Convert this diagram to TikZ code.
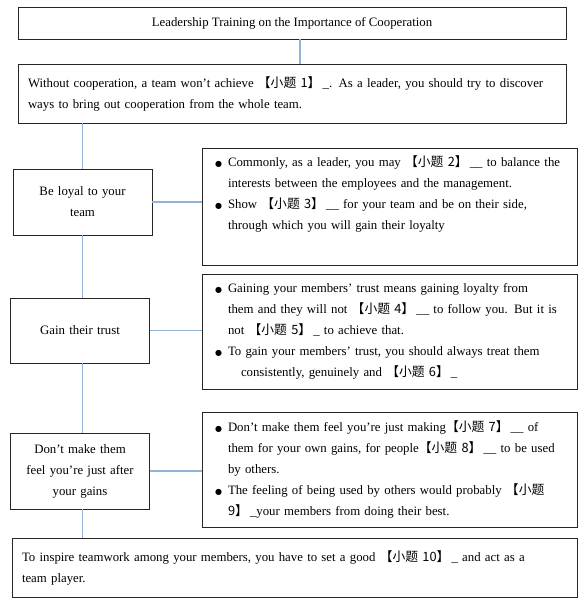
\documentclass[tikz,border=0pt]{standalone}
\usepackage{fontspec}
\setmainfont{Liberation Serif}
\newfontfamily\cjk{Noto Sans CJK SC}
\newfontfamily\symfont{DejaVu Sans}
\usetikzlibrary{calc}
\definecolor{linkblue}{RGB}{149,179,215}
\newcommand{\xt}[1]{{\cjk 【小题~#1】}}
\newcommand{\bul}{\makebox[13pt][l]{\symfont\fontsize{8}{8}\selectfont ●}}
\newcommand{\hang}{\hspace*{13pt}}

\begin{document}
\begin{tikzpicture}[x=1pt, y=-1pt,
    box/.style={draw=black!85, line width=0.9pt, rectangle, inner ysep=0pt,
                font=\fontsize{12.8}{21}\selectfont},
    wide/.style={box, align=left, inner xsep=10pt, minimum height=59pt},
    topic/.style={box, align=center, text width=119pt, inner xsep=10pt},
    tips/.style={box, align=left, text width=349pt, inner xsep=13pt},
    link/.style={draw=linkblue, line width=1.8pt}]
  \useasboundingbox (0,0) rectangle (586,603);
  % Titre et introduction
  \node[box, minimum width=548pt, minimum height=32pt] (title) at (292,23)
      {Leadership Training on the Importance of Cooperation};
  \node[wide, text width=528pt] (intro) at (292,93.5)
      {Without cooperation, a team won’t achieve \xt{1}\,\_. As a leader, you should try to discover\\
       ways to bring out cooperation from the whole team.};
  % Colonne de gauche
  \node[topic, minimum height=66pt] (loyal) at (82.5,202)
      {Be loyal to your\\ team};
  \node[topic, minimum height=65pt] (trust) at (80,330.5)
      {Gain their trust};
  \node[topic, minimum height=76pt] (gains) at (80,471)
      {Don’t make them\\ feel you’re just after\\ your gains};
  % Colonne de droite
  \node[tips, minimum height=117pt] (tips1) at (389.5,206.5)
      {\bul Commonly, as a leader, you may \xt{2}\,\_\_ to balance the\\
       \hang interests between the employees and the management.\\
       \bul Show \xt{3}\,\_\_ for your team and be on their side,\\
       \hang through which you will gain their loyalty\\ \strut};
  \node[tips, minimum height=115pt] (tips2) at (389.5,331.5)
      {\bul Gaining your members’ trust means gaining loyalty from\\
       \hang them and they will not \xt{4}\,\_\_ to follow you. But it is\\
       \hang not \xt{5}\,\_ to achieve that.\\
       \bul To gain your members’ trust, you should always treat them\\
       \hspace*{26pt}consistently, genuinely and \xt{6}\,\_};
  \node[tips, minimum height=115pt] (tips3) at (389.5,469.5)
      {\bul Don’t make them feel you’re just making\xt{7}\,\_\_ of\\
       \hang them for your own gains, for people\xt{8}\,\_\_ to be used\\
       \hang by others.\\
       \bul The feeling of being used by others would probably {\cjk 【小题}\\
       \hang{\cjk 9】}\,\_your members from doing their best.};
  % Conclusion
  \node[wide, text width=545pt] (final) at (294.5,567.5)
      {To inspire teamwork among your members, you have to set a good \xt{10}\,\_ and act as a\\
       team player.};
  % Liaisons
  \draw[link] ([xshift=8pt]title.south) -- ([xshift=8pt]intro.north);
  \draw[link] (intro.south -| loyal.north) -- (loyal.north);
  \draw[link] (loyal.south) -- (loyal.south |- trust.north);
  \draw[link] (trust.south -| loyal.south) -- (loyal.south |- gains.north);
  \draw[link] (gains.south -| loyal.south) -- (loyal.south |- final.north);
  \draw[link] (loyal.east) -- (loyal.east -| tips1.west);
  \draw[link] (trust.east) -- (trust.east -| tips2.west);
  \draw[link] (gains.east) -- (gains.east -| tips3.west);
\end{tikzpicture}
\end{document}
